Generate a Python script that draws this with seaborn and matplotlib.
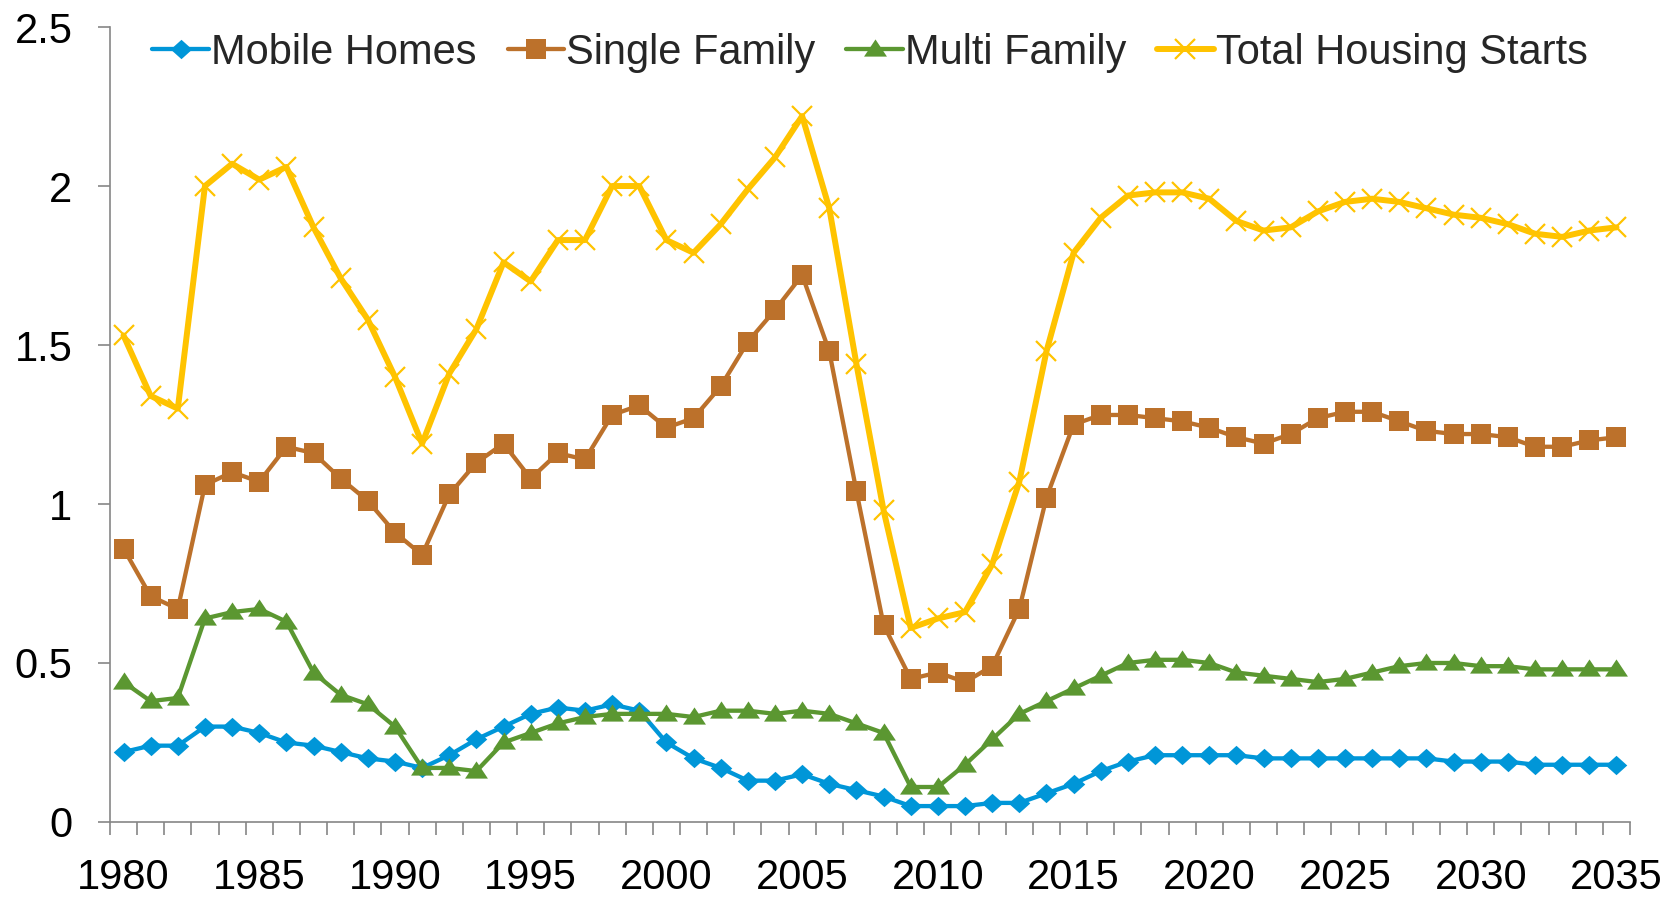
import numpy as np
import pandas as pd
import matplotlib
matplotlib.use("Agg")
import matplotlib.pyplot as plt
from matplotlib.ticker import FuncFormatter
import seaborn as sns

years = list(range(1980, 2036))

mobile_homes = [0.22, 0.24, 0.24, 0.30, 0.30, 0.28, 0.25, 0.24, 0.22, 0.20,
                0.19, 0.17, 0.21, 0.26, 0.30, 0.34, 0.36, 0.35, 0.37, 0.35,
                0.25, 0.20, 0.17, 0.13, 0.13, 0.15, 0.12, 0.10, 0.08, 0.05,
                0.05, 0.05, 0.06, 0.06, 0.09, 0.12, 0.16, 0.19, 0.21, 0.21,
                0.21, 0.21, 0.20, 0.20, 0.20, 0.20, 0.20, 0.20, 0.20, 0.19,
                0.19, 0.19, 0.18, 0.18, 0.18, 0.18]

single_family = [0.86, 0.71, 0.67, 1.06, 1.10, 1.07, 1.18, 1.16, 1.08, 1.01,
                 0.91, 0.84, 1.03, 1.13, 1.19, 1.08, 1.16, 1.14, 1.28, 1.31,
                 1.24, 1.27, 1.37, 1.51, 1.61, 1.72, 1.48, 1.04, 0.62, 0.45,
                 0.47, 0.44, 0.49, 0.67, 1.02, 1.25, 1.28, 1.28, 1.27, 1.26,
                 1.24, 1.21, 1.19, 1.22, 1.27, 1.29, 1.29, 1.26, 1.23, 1.22,
                 1.22, 1.21, 1.18, 1.18, 1.20, 1.21]

multi_family = [0.44, 0.38, 0.39, 0.64, 0.66, 0.67, 0.63, 0.47, 0.40, 0.37,
                0.30, 0.17, 0.17, 0.16, 0.25, 0.28, 0.31, 0.33, 0.34, 0.34,
                0.34, 0.33, 0.35, 0.35, 0.34, 0.35, 0.34, 0.31, 0.28, 0.11,
                0.11, 0.18, 0.26, 0.34, 0.38, 0.42, 0.46, 0.50, 0.51, 0.51,
                0.50, 0.47, 0.46, 0.45, 0.44, 0.45, 0.47, 0.49, 0.50, 0.50,
                0.49, 0.49, 0.48, 0.48, 0.48, 0.48]

total_starts = [1.53, 1.34, 1.30, 2.00, 2.07, 2.02, 2.06, 1.87, 1.71, 1.58,
                1.40, 1.19, 1.41, 1.55, 1.76, 1.70, 1.83, 1.83, 2.00, 2.00,
                1.83, 1.79, 1.88, 1.99, 2.09, 2.22, 1.93, 1.44, 0.98, 0.61,
                0.64, 0.66, 0.81, 1.07, 1.48, 1.79, 1.90, 1.97, 1.98, 1.98,
                1.96, 1.89, 1.86, 1.87, 1.92, 1.95, 1.96, 1.95, 1.93, 1.91,
                1.90, 1.88, 1.85, 1.84, 1.86, 1.87]

df = pd.DataFrame({
    "year": years,
    "Mobile Homes": mobile_homes,
    "Single Family": single_family,
    "Multi Family": multi_family,
    "Total Housing Starts": total_starts,
})

sns.set_theme(style="white")
plt.rcParams["font.family"] = ["Liberation Sans", "DejaVu Sans"]

fig = plt.figure(figsize=(16.81, 9.01), dpi=100)
ax = fig.add_axes([0.0654, 0.0877, 0.9043, 0.8823])

# excel-like marker shapes
diamond = [(-1, 0), (0, 0.9), (1, 0), (0, -0.9)]
triangle = [(-1, -0.62), (1, -0.62), (0, 0.88)]

sns.lineplot(data=df, x="year", y="Mobile Homes", ax=ax, color="#0096D8",
             linewidth=3.1, marker=diamond, markersize=15.5,
             markeredgewidth=0, label="Mobile Homes")
sns.lineplot(data=df, x="year", y="Single Family", ax=ax, color="#BC712B",
             linewidth=3.1, marker="s", markersize=15,
             markeredgewidth=0, label="Single Family")
sns.lineplot(data=df, x="year", y="Multi Family", ax=ax, color="#5B9731",
             linewidth=3.1, marker=triangle, markersize=16.5,
             markeredgewidth=0, label="Multi Family")
sns.lineplot(data=df, x="year", y="Total Housing Starts", ax=ax, color="#FFC300",
             linewidth=4.3, marker="x", markersize=14.5, markeredgecolor="#FFC300",
             markeredgewidth=1.6, label="Total Housing Starts")

ax.set_xlim(1979.5, 2035.5)
ax.set_ylim(0, 2.5)
ax.set_xlabel("")
ax.set_ylabel("")

ax.set_xticks(list(range(1980, 2036, 5)))
ax.set_xticks(np.arange(1979.5, 2036, 1), minor=True)
ax.set_yticks([0, 0.5, 1, 1.5, 2, 2.5])
ax.yaxis.set_major_formatter(FuncFormatter(lambda v, p: f"{v:g}"))

axis_grey = "#868686"
for side in ["top", "right"]:
    ax.spines[side].set_visible(False)
for side in ["left", "bottom"]:
    ax.spines[side].set_color(axis_grey)
    ax.spines[side].set_linewidth(1.2)

ax.tick_params(axis="x", which="major", length=0, pad=26, labelsize=30,
               labelcolor="black")
ax.tick_params(axis="x", which="minor", length=9, width=1.2, color=axis_grey,
               direction="out", bottom=True)
ax.tick_params(axis="y", which="major", length=9, width=1.2, color=axis_grey,
               direction="out", left=True, pad=18, labelsize=30,
               labelcolor="black")
ax.grid(False)

ax.legend(loc="upper center", ncol=4, frameon=False, fontsize=30,
          handlelength=1.35, handletextpad=0.05, columnspacing=0.75,
          borderaxespad=0.05, bbox_to_anchor=(0.5, 1.016))

fig.savefig("out.png", dpi=100)
